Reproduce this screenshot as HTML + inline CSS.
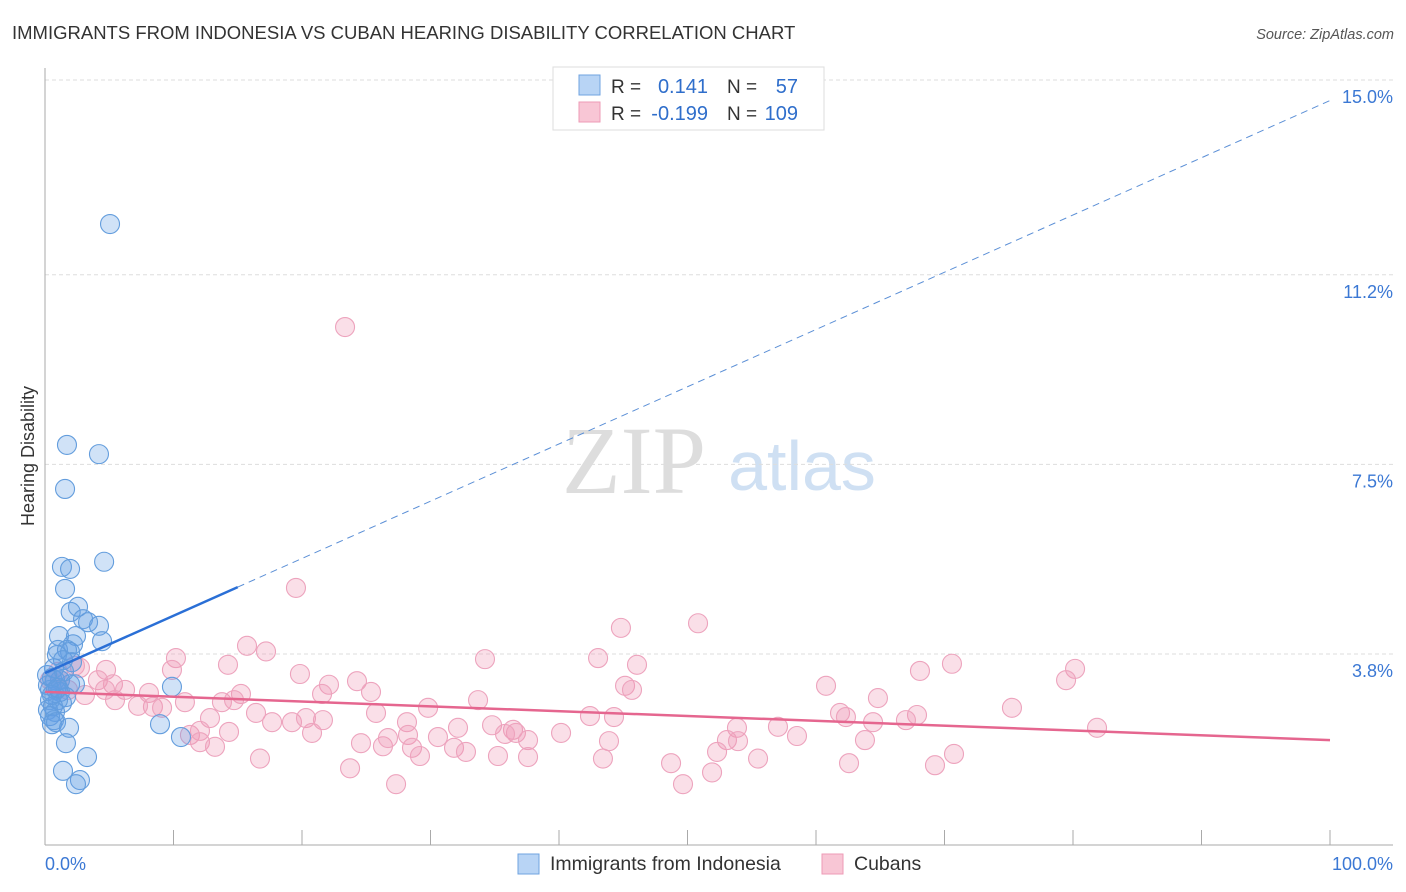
<!DOCTYPE html>
<html><head><meta charset="utf-8"><style>
body{margin:0;background:#fff;font-family:"Liberation Sans",sans-serif;}
#c{position:absolute;left:0;top:0;}
</style></head><body>
<svg id="c" width="1406" height="892">
<text x="12" y="39" font-size="18.5" fill="#333">IMMIGRANTS FROM INDONESIA VS CUBAN HEARING DISABILITY CORRELATION CHART</text>
<text x="1394" y="39" font-size="14.5" fill="#555" text-anchor="end" font-style="italic">Source: ZipAtlas.com</text>
<text x="634" y="493" font-size="96" fill="#ddd" text-anchor="middle" font-family="Liberation Serif,serif">ZIP</text>
<text x="802" y="490" font-size="70" fill="#cfe0f3" text-anchor="middle">atlas</text>
<text transform="translate(34,456) rotate(-90)" font-size="18" fill="#333" text-anchor="middle">Hearing Disability</text>
<g id="grid"></g><g id="ax"></g><g id="pts"></g><g id="lines"></g>
<g>
<rect x="553" y="67" width="271" height="63" fill="#fff" stroke="#ddd"/>
<rect x="579" y="75" width="21" height="20" fill="#b8d4f5" stroke="#6fa3e0"/>
<rect x="579" y="102" width="21" height="20" fill="#f8c6d5" stroke="#ee9bb6"/>
<text x="611" y="93" font-size="19" fill="#333">R =</text><text x="708" y="93" font-size="20" fill="#2f6ecb" text-anchor="end">0.141</text>
<text x="727" y="93" font-size="19" fill="#333">N =</text><text x="798" y="93" font-size="20" fill="#2f6ecb" text-anchor="end">57</text>
<text x="611" y="120" font-size="19" fill="#333">R =</text><text x="708" y="120" font-size="20" fill="#2f6ecb" text-anchor="end">-0.199</text>
<text x="727" y="120" font-size="19" fill="#333">N =</text><text x="798" y="120" font-size="20" fill="#2f6ecb" text-anchor="end">109</text>
</g>
<g>
<rect x="518" y="854" width="21" height="20" fill="#b8d4f5" stroke="#6fa3e0"/>
<text x="550" y="870" font-size="19.5" fill="#333">Immigrants from Indonesia</text>
<rect x="822" y="854" width="21" height="20" fill="#f8c6d5" stroke="#ee9bb6"/>
<text x="854" y="870" font-size="19.5" fill="#333">Cubans</text>
</g>
</svg>
<script>
const yTicks=[3.8,7.5,11.2,15.0];
const yTickLabels=["3.8%","7.5%","11.2%","15.0%"];
const xTickLabels=["0.0%","100.0%"];
const blueX=[5.06,1.71,4.2,1.56,1.32,1.95,4.6,1.56,2.0,2.57,2.96,3.35,4.2,1.09,2.41,4.44,2.18,1.01,1.71,1.95,0.93,1.4,2.1,0.54,0.78,1.17,1.95,2.33,9.88,0.39,0.86,1.17,1.63,0.39,1.01,1.32,0.62,0.23,0.78,0.39,0.7,0.54,0.86,1.87,8.95,10.58,1.63,3.27,1.4,2.72,2.41,0.23,0.54,1.01,0.7,0.16,1.48];
const blueY=[12.19,7.88,7.70,7.02,5.50,5.46,5.60,5.07,4.62,4.72,4.48,4.42,4.35,4.15,4.15,4.05,3.99,3.88,3.88,3.84,3.78,3.68,3.64,3.33,3.29,3.29,3.21,3.21,3.16,3.10,3.10,3.06,2.96,2.90,2.90,2.84,2.78,2.71,2.67,2.59,2.51,2.43,2.47,2.36,2.43,2.18,2.06,1.79,1.52,1.34,1.26,3.19,3.0,3.14,3.52,3.39,3.46];
const pinkX=[23.35,19.53,50.82,44.82,15.72,17.20,10.19,43.04,34.24,46.07,70.58,80.16,68.09,79.46,9.88,14.24,19.84,4.75,2.72,1.01,2.33,24.28,45.14,45.68,60.78,22.10,4.12,5.29,15.25,25.37,21.56,64.82,33.70,6.23,8.09,10.89,13.77,14.71,29.81,75.25,61.87,62.33,67.86,67.00,42.41,44.28,8.40,9.11,7.24,16.42,12.84,25.76,17.67,19.22,20.31,21.63,28.17,34.79,36.42,32.14,36.65,40.16,57.04,64.44,81.87,53.85,20.78,35.80,58.52,14.32,11.28,12.06,28.25,30.58,12.06,24.59,26.30,26.69,37.59,43.89,53.07,53.93,63.81,13.23,31.83,28.56,29.18,32.76,52.30,70.74,16.73,35.25,37.59,43.42,55.49,48.72,62.57,69.26,23.74,51.91,49.65,27.32,5.45,4.67,1.17,0.39,1.79,3.11];
const pinkY=[10.18,5.09,4.40,4.31,3.96,3.85,3.72,3.72,3.70,3.59,3.61,3.51,3.47,3.29,3.49,3.59,3.41,3.49,3.53,3.45,3.57,3.27,3.18,3.10,3.18,3.20,3.29,3.21,3.02,3.06,3.02,2.94,2.90,3.10,3.04,2.86,2.86,2.90,2.75,2.75,2.65,2.57,2.61,2.51,2.59,2.57,2.77,2.75,2.79,2.65,2.55,2.65,2.47,2.47,2.55,2.51,2.47,2.41,2.32,2.36,2.26,2.26,2.38,2.47,2.36,2.36,2.26,2.24,2.20,2.28,2.22,2.30,2.22,2.18,2.08,2.06,2.00,2.16,2.12,2.10,2.12,2.10,2.12,1.99,1.97,1.97,1.81,1.89,1.89,1.85,1.76,1.81,1.79,1.76,1.76,1.67,1.67,1.63,1.57,1.49,1.26,1.26,2.90,3.10,3.29,3.29,3.10,3.00];
const blueTrend=[3.43,14.6];
const pinkTrend=[3.06,2.12];
const NS="http://www.w3.org/2000/svg";
const X=v=>45+v*12.85, Y=v=>80+(15-v)*51.25;
function mk(tag,attrs,parent){const e=document.createElementNS(NS,tag);for(const k in attrs)e.setAttribute(k,attrs[k]);document.getElementById(parent).appendChild(e);return e;}
yTicks.forEach((t,i)=>{
 const g=mk('line',{x1:45,x2:1393,y1:Y(t),y2:Y(t),stroke:'#ddd','stroke-dasharray':'4,3'},'grid');
 
 
 const l=mk('text',{x:1393,y:Y(t)+23,'font-size':18,fill:'#3b78d4','text-anchor':'end'},'ax');l.textContent=yTickLabels[i];
 
 
});
mk('line',{x1:45,x2:45,y1:68,y2:845,stroke:'#aaa'},'ax');
mk('line',{x1:45,x2:1393,y1:845,y2:845,stroke:'#aaa'},'ax');
for(let i=1;i<=10;i++){const t=mk('line',{x1:X(i*10),x2:X(i*10),y1:830,y2:845,stroke:'#aaa'},'ax');
 
 }
[[0,'start',45],[1,'end',1393]].forEach(([i,a,x])=>{const l=mk('text',{x:x,y:870,'font-size':18,fill:'#3b78d4','text-anchor':a},'ax');l.textContent=xTickLabels[i];
 
 });
pinkX.forEach((x,i)=>{const c=mk('circle',{cx:X(x),cy:Y(pinkY[i]),r:9.5,fill:'rgba(240,150,180,0.3)',stroke:'#eda3bd','stroke-width':1.1},'pts');
 
 });
blueX.forEach((x,i)=>{const c=mk('circle',{cx:X(x),cy:Y(blueY[i]),r:9.5,fill:'rgba(100,160,230,0.3)',stroke:'#639ddd','stroke-width':1.1},'pts');
 
 });
const bx=15, by=blueTrend[0]+(blueTrend[1]-blueTrend[0])*bx/100;
const b1=mk('line',{x1:X(0),y1:Y(blueTrend[0]),x2:X(bx),y2:Y(by),stroke:'#2a6fd6','stroke-width':2.5},'lines');


const b2=mk('line',{x1:X(bx),y1:Y(by),x2:X(100),y2:Y(blueTrend[1]),stroke:'#5b8fd6','stroke-width':1,'stroke-dasharray':'7,5'},'lines');


const p1=mk('line',{x1:X(0),y1:Y(pinkTrend[0]),x2:X(100),y2:Y(pinkTrend[1]),stroke:'#e5668f','stroke-width':2.5},'lines');


</script>
</body></html>
